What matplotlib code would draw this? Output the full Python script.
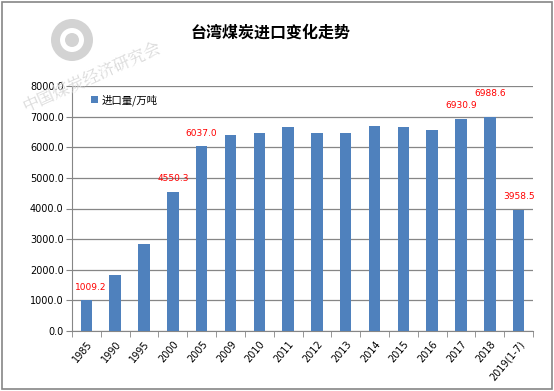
import numpy as np
import matplotlib
matplotlib.use("Agg")
import matplotlib.pyplot as plt
from matplotlib.patches import Rectangle, Circle

plt.rcParams['font.family'] = ['Noto Sans CJK SC', 'DejaVu Sans']

# dados
anos = ['1985', '1990', '1995', '2000', '2005', '2009', '2010', '2011', '2012',
        '2013', '2014', '2015', '2016', '2017', '2018', '2019(1-7)']
valores = [1009.2, 1830.0, 2845.0, 4550.3, 6037.0, 6385.0, 6480.0, 6645.0, 6450.0,
           6480.0, 6710.0, 6645.0, 6550.0, 6930.9, 6988.6, 3958.5]
rotulos = {0: '1009.2', 3: '4550.3', 4: '6037.0', 13: '6930.9', 14: '6988.6', 15: '3958.5'}

fig = plt.figure(figsize=(5.54, 3.91), dpi=100)
ax = fig.add_axes([72 / 554, 1 - 331 / 391, 461 / 554, 245 / 391])

x = np.arange(len(anos))
ax.bar(x, valores, width=0.4, color='#4f81bd', zorder=3, label='进口量/万吨')

# rótulos em vermelho
for i, txt in rotulos.items():
    dy = 14 if i == 14 else 6
    dx = 3 if i == 0 else 0
    ax.annotate(txt, (x[i], valores[i]), xytext=(dx, dy), textcoords='offset points',
                ha='center', va='bottom', color='red', fontsize=6.5,
                family=['DejaVu Sans'])

ax.set_xlim(-0.5, len(anos) - 0.5)
ax.set_ylim(0, 8000)
ax.set_yticks(np.arange(0, 8001, 1000))
ax.set_yticklabels([f'{v:.1f}' for v in np.arange(0, 8001, 1000)], fontsize=7,
                   family=['DejaVu Sans'])
ax.set_xticks(x)
ax.set_xticklabels(anos, rotation=50, ha='right', rotation_mode='anchor', fontsize=7,
                   family=['DejaVu Sans'])
ax.set_xticks(np.arange(-0.5, len(anos), 1), minor=True)
ax.tick_params(axis='x', which='major', length=0, pad=6)
ax.tick_params(axis='x', which='minor', length=4, color='#868686')
ax.tick_params(axis='y', length=4, color='#868686', pad=2)

ax.grid(axis='y', color='#868686', linewidth=0.9, zorder=0)
for s in ['top', 'right']:
    ax.spines[s].set_visible(False)
for s in ['left', 'bottom']:
    ax.spines[s].set_color('#868686')

ax.legend(loc='upper left', bbox_to_anchor=(0.02, 1.005), frameon=False, fontsize=7.5,
          handlelength=0.7, handleheight=0.7, handletextpad=0.4)

fig.text(271 / 554, 1 - 33 / 391, '台湾煤炭进口变化走势', ha='center', va='center',
         fontsize=11.5, fontweight='bold')

# marca d'água
fig.text(92 / 554, 1 - 78 / 391, '中国煤炭经济研究会', rotation=24, ha='center', va='center',
         fontsize=12, color='#dadada', family=['Noto Serif CJK SC', 'Noto Sans CJK SC'])
cx, cy = 72, 391 - 40
fig.patches.append(Circle((cx, cy), 21, transform=None, facecolor='#d3d3d3',
                          edgecolor='none', zorder=0))
fig.patches.append(Circle((cx, cy), 12, transform=None, facecolor='white',
                          edgecolor='none', zorder=0))
fig.patches.append(Circle((cx, cy), 7, transform=None, facecolor='#d3d3d3',
                          edgecolor='none', zorder=0))

# borda da figura
fig.patches.append(Rectangle((0.004, 0.005), 0.992, 0.99, transform=fig.transFigure,
                             fill=False, edgecolor='#868686', linewidth=1.2))

fig.savefig('out.png', dpi=100)
